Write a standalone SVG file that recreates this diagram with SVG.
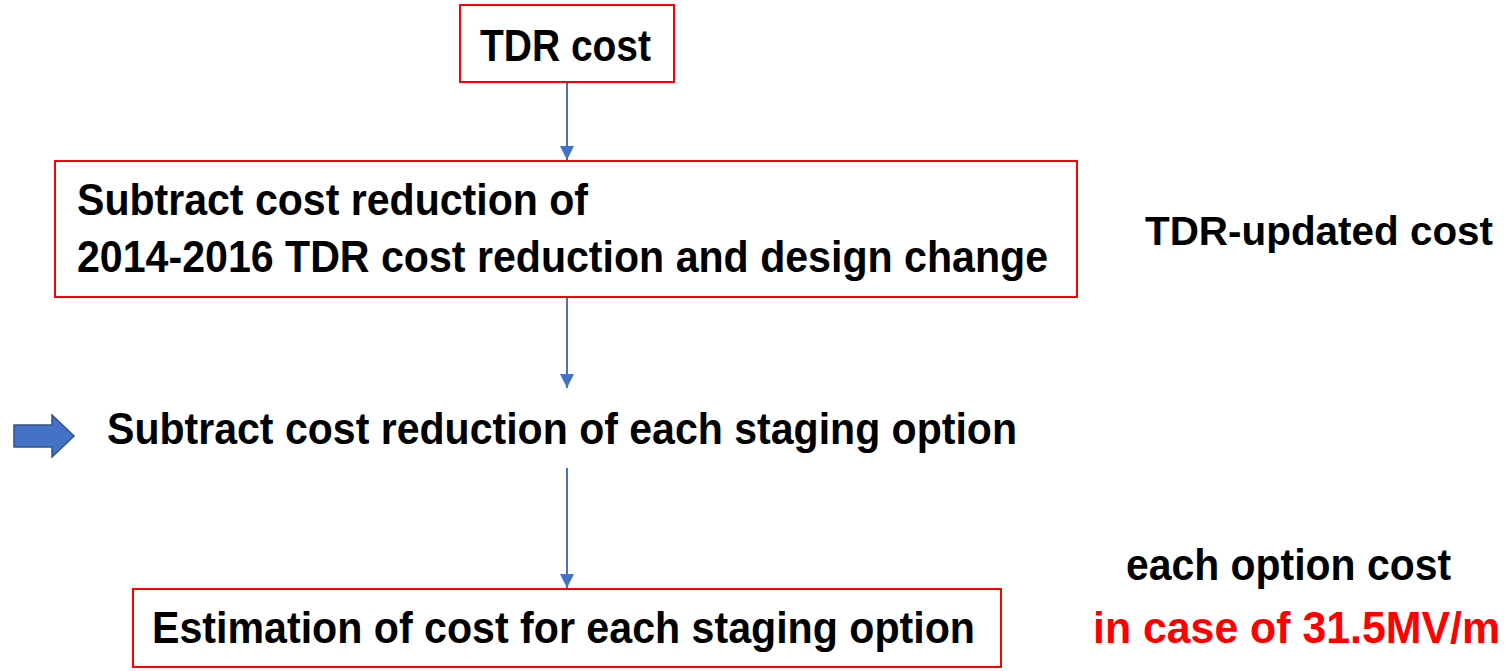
<svg xmlns="http://www.w3.org/2000/svg" width="1512" height="671" viewBox="0 0 1512 671">
<style>
.box{fill:#fff;stroke:#ff0000;stroke-width:2}
.t{font-family:"Liberation Sans",Arial,sans-serif;font-weight:bold;font-size:44px;fill:#000}
.red{fill:#ff0000}
.conn{stroke:#4472c4;stroke-width:2;fill:none}
</style>
<defs>
<marker id="ah" markerWidth="16" markerHeight="16" refX="14" refY="7" orient="auto" markerUnits="userSpaceOnUse">
<path d="M0,0 L14,7 L0,14 Z" fill="#4472c4"/>
</marker>
</defs>
<rect width="1512" height="671" fill="#fff"/>
<g id="connectors">
<line class="conn" x1="567" y1="83" x2="567" y2="160" marker-end="url(#ah)"/>
<line class="conn" x1="567" y1="298" x2="567" y2="388" marker-end="url(#ah)"/>
<line class="conn" x1="567" y1="468" x2="567" y2="588" marker-end="url(#ah)"/>
</g>
<g id="node-tdr">
<rect class="box" x="460" y="5" width="214" height="77"/>
<text class="t" x="480" y="61" textLength="171" lengthAdjust="spacingAndGlyphs">TDR cost</text>
</g>
<g id="node-subtract1">
<rect class="box" x="55" y="161" width="1022" height="136"/>
<text class="t" x="77" y="215" textLength="511" lengthAdjust="spacingAndGlyphs">Subtract cost reduction of</text>
<text class="t" x="77" y="272" textLength="971" lengthAdjust="spacingAndGlyphs">2014-2016 TDR cost reduction and design change</text>
</g>
<g id="label-updated">
<text class="t" x="1145" y="245" font-size="41" style="font-size:41px" textLength="348" lengthAdjust="spacingAndGlyphs">TDR-updated cost</text>
</g>
<g id="node-subtract2">
<path d="M14,425 L52,425 L52,415 L74,436 L52,457 L52,447 L14,447 Z" fill="#4472c4" stroke="#2f528f" stroke-width="1.5"/>
<text class="t" x="107" y="444" textLength="910" lengthAdjust="spacingAndGlyphs">Subtract cost reduction of each staging option</text>
</g>
<g id="node-estimation">
<rect class="box" x="133" y="589" width="868" height="78"/>
<text class="t" x="152" y="643" textLength="823" lengthAdjust="spacingAndGlyphs">Estimation of cost for each staging option</text>
</g>
<g id="label-option">
<text class="t" x="1126" y="580" textLength="325" lengthAdjust="spacingAndGlyphs">each option cost</text>
<text class="t red" x="1093" y="643" textLength="407" lengthAdjust="spacingAndGlyphs">in case of 31.5MV/m</text>
</g>
</svg>
